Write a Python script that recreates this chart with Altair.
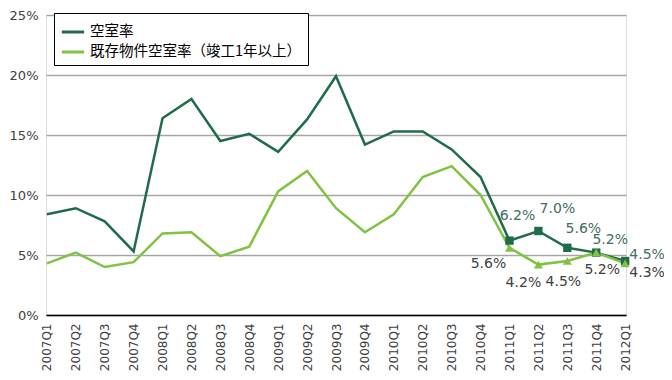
import altair as alt
import pandas as pd

quarters = ["2007Q1", "2007Q2", "2007Q3", "2007Q4", "2008Q1", "2008Q2", "2008Q3", "2008Q4",
            "2009Q1", "2009Q2", "2009Q3", "2009Q4", "2010Q1", "2010Q2", "2010Q3", "2010Q4",
            "2011Q1", "2011Q2", "2011Q3", "2011Q4", "2012Q1"]
vacancy = [8.4, 8.9, 7.8, 5.3, 16.4, 18.0, 14.5, 15.1, 13.6, 16.3, 19.9, 14.2,
           15.3, 15.3, 13.8, 11.5, 6.2, 7.0, 5.6, 5.2, 4.5]
existing = [4.3, 5.2, 4.0, 4.4, 6.8, 6.9, 4.9, 5.7, 10.3, 12.0, 8.9, 6.9,
            8.4, 11.5, 12.4, 10.0, 5.6, 4.2, 4.5, 5.2, 4.3]
series_names = ["空室率", "既存物件空室率（竣工1年以上）"]
labeled_quarters = ["2011Q1", "2011Q2", "2011Q3", "2011Q4", "2012Q1"]

DARK = "#1f6b4a"
LIGHT = "#80c242"
FONT = "DejaVu Sans"
JFONT = "Noto Sans CJK JP"

df = pd.DataFrame({"q": quarters, series_names[0]: vacancy, series_names[1]: existing})
long = df.melt(id_vars="q", var_name="series", value_name="v")
long["label"] = long["v"].map(lambda x: f"{x:.1f}%")
long["marked"] = long["q"].isin(labeled_quarters)

x_enc = alt.X("q:N", sort=quarters, title=None,
              scale=alt.Scale(type="point", padding=0.03),
              axis=alt.Axis(labelAngle=270, labelFont=FONT, labelFontSize=12, labelColor="#404040",
                            ticks=False, domainColor="#000000", domainWidth=1.5,
                            labelPadding=8, grid=False))
y_enc = alt.Y("v:Q", title=None,
              scale=alt.Scale(domain=[0, 25], nice=False),
              axis=alt.Axis(values=[0, 5, 10, 15, 20, 25], labelExpr="datum.value + '%'",
                            labelFont=FONT, labelFontSize=13, labelColor="#404040",
                            ticks=False, domain=False, labelPadding=8,
                            gridColor="#a6a6a6", gridWidth=1.5))
color_enc = alt.Color("series:N", sort=series_names,
                      scale=alt.Scale(domain=series_names, range=[DARK, LIGHT]),
                      legend=alt.Legend(title=None, orient="none", legendX=8, legendY=-2,
                                        fillColor="white", strokeColor="black", padding=6,
                                        symbolType="stroke", symbolStrokeWidth=3, symbolSize=500,
                                        labelFont=JFONT, labelFontSize=14.5, labelColor="#000000",
                                        labelLimit=400, rowPadding=0, labelOffset=4))

base = alt.Chart(long)
lines = base.mark_line(strokeWidth=2.5).encode(x=x_enc, y=y_enc, color=color_enc)

dark_pts = base.transform_filter(
    (alt.datum.series == series_names[0]) & alt.datum.marked
).mark_point(shape="square", filled=True, size=70, opacity=1, color=DARK).encode(x=x_enc, y=y_enc)
light_pts = base.transform_filter(
    (alt.datum.series == series_names[1]) & alt.datum.marked
).mark_point(shape="triangle-up", filled=True, size=80, opacity=1, color=LIGHT).encode(x=x_enc, y=y_enc)

dark_offsets = [(8, -25), (19, -22), (16, -19), (14, -13), (22, -6)]
light_offsets = [(-21, 16), (-15, 18), (-4, 21), (6, 17), (22, 10)]

layers = [lines, dark_pts, light_pts]
for qq, (dx, dy) in zip(labeled_quarters, dark_offsets):
    layers.append(base.transform_filter(
        (alt.datum.series == series_names[0]) & (alt.datum.q == qq)
    ).mark_text(font=FONT, fontSize=14, color="#3e6e62", dx=dx, dy=dy).encode(
        x=x_enc, y=y_enc, text="label:N"))
for qq, (dx, dy) in zip(labeled_quarters, light_offsets):
    layers.append(base.transform_filter(
        (alt.datum.series == series_names[1]) & (alt.datum.q == qq)
    ).mark_text(font=FONT, fontSize=14, color="#404040", dx=dx, dy=dy).encode(
        x=x_enc, y=y_enc, text="label:N"))

chart = alt.layer(*layers).properties(
    width=580, height=300,
    autosize=alt.AutoSizeParams(type="none"),
    padding={"left": 38, "top": 7, "right": 38, "bottom": 56},
).configure_view(stroke=None).configure(background="white")

chart.save("out.html", embed_options={"renderer": "svg", "actions": False})
